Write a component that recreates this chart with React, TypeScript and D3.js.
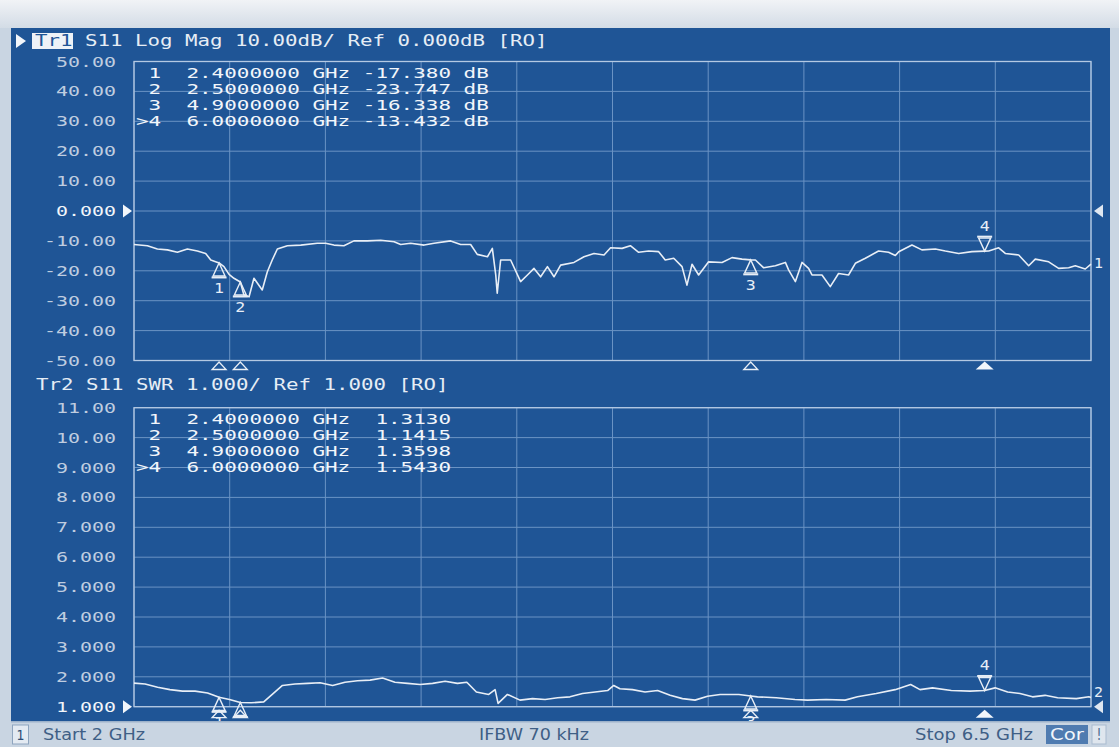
import { useEffect } from 'react'
import * as d3 from 'd3'

// stimulus
const startGHz = 2
const stopGHz = 6.5

// Tr1: S11 Log Mag (dB)
const s11LogMag: [number, number][] = [
  [2.0, -11.2], [2.063, -11.6], [2.11, -12.7], [2.157, -13.0], [2.204, -13.8], [2.251, -12.7],
  [2.298, -13.4], [2.337, -14.2], [2.361, -16.4], [2.4, -17.38], [2.423, -18.6], [2.447, -21.2],
  [2.47, -22.5], [2.5, -23.75], [2.517, -28.1], [2.541, -28.7], [2.564, -22.5], [2.603, -26.4],
  [2.627, -20.3], [2.65, -16.4], [2.674, -12.7], [2.721, -11.6], [2.784, -11.4], [2.862, -10.8],
  [2.901, -10.8], [2.94, -11.4], [2.987, -11.6], [3.034, -10.0], [3.097, -10.0], [3.16, -9.8],
  [3.223, -10.3], [3.254, -11.2], [3.301, -10.8], [3.364, -11.4], [3.411, -10.8], [3.489, -10.0],
  [3.536, -11.2], [3.583, -11.2], [3.614, -14.5], [3.662, -15.3], [3.685, -12.5], [3.701, -21.4],
  [3.708, -27.5], [3.724, -16.4], [3.771, -16.4], [3.818, -23.6], [3.85, -21.4], [3.881, -19.2],
  [3.912, -22.0], [3.944, -18.6], [3.975, -22.0], [4.006, -18.1], [4.069, -17.2], [4.116, -15.3],
  [4.163, -14.2], [4.21, -14.7], [4.241, -12.3], [4.295, -12.5], [4.334, -11.6], [4.373, -13.8],
  [4.42, -13.4], [4.467, -13.6], [4.498, -16.4], [4.538, -15.8], [4.577, -18.6], [4.6, -24.8],
  [4.624, -17.8], [4.655, -21.4], [4.702, -17.0], [4.765, -17.2], [4.812, -15.6], [4.859, -16.1],
  [4.9, -16.34], [4.922, -16.4], [4.961, -19.0], [5.016, -18.3], [5.063, -17.2], [5.078, -19.7],
  [5.11, -23.6], [5.141, -17.2], [5.172, -19.2], [5.188, -21.4], [5.235, -21.4], [5.274, -25.3],
  [5.313, -20.9], [5.36, -21.4], [5.392, -17.5], [5.439, -15.8], [5.501, -13.4], [5.548, -13.8],
  [5.58, -14.9], [5.596, -13.6], [5.658, -11.4], [5.705, -13.0], [5.768, -12.7], [5.815, -13.4],
  [5.878, -14.2], [5.94, -13.6], [6.0, -13.43], [6.019, -13.4], [6.066, -12.3], [6.097, -14.2],
  [6.16, -14.7], [6.207, -18.3], [6.238, -16.1], [6.301, -17.0], [6.348, -19.2], [6.395, -19.0],
  [6.426, -18.3], [6.473, -19.4], [6.5, -17.8],
]

// Tr2: S11 SWR
const s11Swr: [number, number][] = [
  [2.0, 1.79], [2.052, 1.76], [2.111, 1.65], [2.169, 1.57], [2.228, 1.52], [2.287, 1.52],
  [2.346, 1.46], [2.375, 1.38], [2.4, 1.313], [2.449, 1.24], [2.5, 1.14], [2.551, 1.13],
  [2.61, 1.16], [2.654, 1.44], [2.698, 1.71], [2.757, 1.76], [2.816, 1.78], [2.875, 1.8],
  [2.934, 1.71], [2.992, 1.82], [3.051, 1.87], [3.11, 1.89], [3.169, 1.96], [3.227, 1.82],
  [3.286, 1.78], [3.345, 1.74], [3.404, 1.78], [3.463, 1.85], [3.521, 1.78], [3.565, 1.82],
  [3.61, 1.49], [3.668, 1.41], [3.698, 1.57], [3.712, 1.11], [3.756, 1.41], [3.815, 1.22],
  [3.874, 1.27], [3.933, 1.24], [3.992, 1.3], [4.05, 1.33], [4.109, 1.44], [4.168, 1.49],
  [4.227, 1.54], [4.256, 1.71], [4.285, 1.6], [4.344, 1.57], [4.403, 1.49], [4.462, 1.54],
  [4.521, 1.38], [4.579, 1.27], [4.638, 1.22], [4.697, 1.35], [4.756, 1.41], [4.844, 1.41],
  [4.9, 1.36], [4.932, 1.33], [5.02, 1.3], [5.108, 1.24], [5.167, 1.22], [5.255, 1.24],
  [5.344, 1.22], [5.402, 1.33], [5.49, 1.44], [5.579, 1.57], [5.652, 1.74], [5.696, 1.57],
  [5.755, 1.63], [5.843, 1.54], [5.931, 1.52], [6.0, 1.543], [6.049, 1.63], [6.108, 1.49],
  [6.166, 1.44], [6.225, 1.33], [6.284, 1.38], [6.343, 1.3], [6.431, 1.27], [6.49, 1.33],
  [6.5, 1.31],
]

// markers
const markerIds = ['1', '2', '3', '4']
const markerGHz = [2.4, 2.5, 4.9, 6.0]
const markerDb = [-17.38, -23.747, -16.338, -13.432]
const markerSwr = [1.313, 1.1415, 1.3598, 1.543]
const activeMarker = 3

// y axes
const topTicks = [50, 40, 30, 20, 10, 0, -10, -20, -30, -40, -50]
const topTickLabels = ['50.00', '40.00', '30.00', '20.00', '10.00', '0.000', '-10.00', '-20.00', '-30.00', '-40.00', '-50.00']
const botTicks = [11, 10, 9, 8, 7, 6, 5, 4, 3, 2, 1]
const botTickLabels = ['11.00', '10.00', '9.000', '8.000', '7.000', '6.000', '5.000', '4.000', '3.000', '2.000', '1.000']

const tr1Header = 'S11 Log Mag 10.00dB/ Ref 0.000dB [RO]'
const tr2Header = 'Tr2 S11 SWR 1.000/ Ref 1.000 [RO]'
const statusStart = 'Start 2 GHz'
const statusIfbw = 'IFBW 70 kHz'
const statusStop = 'Stop 6.5 GHz'

const BLUE = '#1f5596'
const GRID = '#6a93c4'
const FRAME = '#b4c9e3'
const TRACE = '#e8eef6'
const LABEL = '#bfcde0'
const BRIGHT = '#f2f6fb'
const MONO = '"DejaVu Sans Mono", monospace'

function Mono({ x, y, text, cw, size = 14, fill = BRIGHT, anchor = 'start' }: any) {
  const w = text.length * cw
  const x0 = anchor === 'end' ? x - w : anchor === 'middle' ? x - w / 2 : x
  return (
    <text x={x0} y={y} dominantBaseline="central" fontFamily={MONO} fontSize={size}
      textLength={w} lengthAdjust="spacingAndGlyphs" fill={fill}>{text}</text>
  )
}

function Sans({ x, y, text, w, size = 15, fill = '#3f5f86', anchor = 'start' }: any) {
  const x0 = anchor === 'end' ? x - w : anchor === 'middle' ? x - w / 2 : x
  return (
    <text x={x0} y={y} dominantBaseline="central" fontFamily='"DejaVu Sans", sans-serif'
      fontSize={size} textLength={w} lengthAdjust="spacingAndGlyphs" fill={fill}>{text}</text>
  )
}

export default function App() {
  useEffect(() => {
    document.body.style.margin = '0'
  }, [])

  const W = 1119
  const H = 747
  const x = d3.scaleLinear().domain([startGHz, stopGHz]).range([134, 1091])
  const yTop = d3.scaleLinear().domain([-50, 50]).range([360.5, 61.5])
  const yBot = d3.scaleLinear().domain([1, 11]).range([706.7, 407.7])
  const divs = d3.range(0, 11).map(i => startGHz + (i * (stopGHz - startGHz)) / 10)

  const lineTop = d3.line<[number, number]>().x(d => x(d[0])).y(d => yTop(d[1]))
  const lineBot = d3.line<[number, number]>().x(d => x(d[0])).y(d => yBot(d[1]))

  const cwTab = 12.6
  const tabX = 136

  const plot = (y: any, ticks: number[], labels: string[], refVal: number, key: string) => {
    const [y1, y0] = y.range()
    return (
      <g key={key}>
        {ticks.map(t => (
          <line key={'h' + t} x1={x(startGHz)} x2={x(stopGHz)} y1={y(t)} y2={y(t)} stroke={GRID} strokeWidth={1} />
        ))}
        {divs.map(d => (
          <line key={'v' + d} x1={x(d)} x2={x(d)} y1={y0} y2={y1} stroke={GRID} strokeWidth={1} />
        ))}
        <rect x={x(startGHz)} y={y0} width={x(stopGHz) - x(startGHz)} height={y1 - y0} fill="none" stroke={FRAME} strokeWidth={1.3} />
        {ticks.map((t, i) => (
          <Mono key={'l' + t} x={116} y={y(t)} text={labels[i]} cw={12} size={14}
            fill={t === refVal ? BRIGHT : LABEL} anchor="end" />
        ))}
        <path d={`M${x(startGHz) - 11},${y(refVal) - 6.5}L${x(startGHz) - 2},${y(refVal)}L${x(startGHz) - 11},${y(refVal) + 6.5}Z`} fill={BRIGHT} />
        <path d={`M${x(stopGHz) + 12},${y(refVal) - 6.5}L${x(stopGHz) + 3},${y(refVal)}L${x(stopGHz) + 12},${y(refVal) + 6.5}Z`} fill="#dfe7f1" />
      </g>
    )
  }

  const markerUp = (mx: number, my: number, id: string, k: string) => (
    <g key={k}>
      <path d={`M${mx},${my}L${mx - 6},${my + 13}L${mx + 6},${my + 13}Z`} fill="none" stroke={TRACE} strokeWidth={1.4} />
      <line x1={mx - 7.5} x2={mx + 7.5} y1={my + 14.5} y2={my + 14.5} stroke={TRACE} strokeWidth={2} />
      <Mono x={mx} y={my + 25} text={id} cw={10} size={14} fill={TRACE} anchor="middle" />
    </g>
  )
  const markerDown = (mx: number, my: number, id: string, k: string) => (
    <g key={k}>
      <path d={`M${mx},${my}L${mx - 6},${my - 13}L${mx + 6},${my - 13}Z`} fill="none" stroke={TRACE} strokeWidth={1.4} />
      <line x1={mx - 7.5} x2={mx + 7.5} y1={my - 14.5} y2={my - 14.5} stroke={TRACE} strokeWidth={2} />
      <Mono x={mx} y={my - 25} text={id} cw={10} size={14} fill={TRACE} anchor="middle" />
    </g>
  )
  const stimMark = (mx: number, yb: number, active: boolean, k: string) =>
    active ? (
      <path key={k} d={`M${mx},${yb - 8}L${mx - 9},${yb}L${mx + 9},${yb}Z`} fill={BRIGHT} />
    ) : (
      <path key={k} d={`M${mx},${yb - 7.5}L${mx - 7},${yb}L${mx + 7},${yb}Z`} fill="none" stroke={TRACE} strokeWidth={1.3} />
    )

  return (
    <svg width={W} height={H} style={{ position: 'fixed', left: 0, top: 0, display: 'block' }}>
      <defs>
        <linearGradient id="band" x1="0" y1="0" x2="0" y2="1">
          <stop offset="0" stopColor="#f1f3f6" />
          <stop offset="1" stopColor="#d3dce6" />
        </linearGradient>
      </defs>
      <rect x={0} y={0} width={W} height={H} fill="#c9d5e2" />
      <rect x={0} y={0} width={W} height={28} fill="url(#band)" />
      <rect x={11} y={28} width={1099} height={693} fill={BLUE} />

      {/* Tr1 header */}
      <path d="M16,34L26,41L16,48Z" fill={BRIGHT} />
      <rect x={32} y={33} width={41} height={16} fill="#eef2f7" />
      <Mono x={35} y={41} text="Tr1" cw={12.5} size={15} fill={BLUE} />
      <Mono x={35 + 4 * 12.5} y={41} text={tr1Header} cw={12.5} size={15} fill="#e6edf5" />

      {plot(yTop, topTicks, topTickLabels, 0, 'p1')}

      {/* Tr1 marker table */}
      {markerIds.map((id, i) => {
        const yy = yTop.range()[1] + 11.5 + i * 16
        return (
          <g key={'t1' + id}>
            {i === activeMarker
              ? <Mono x={tabX} y={yy} text={'>' + id} cw={cwTab} />
              : <Mono x={tabX + cwTab} y={yy} text={id} cw={cwTab} />}
            <Mono x={tabX + 4 * cwTab} y={yy} text={markerGHz[i].toFixed(7)} cw={cwTab} />
            <Mono x={tabX + 14 * cwTab} y={yy} text="GHz" cw={cwTab} />
            <Mono x={tabX + 18 * cwTab} y={yy} text={markerDb[i].toFixed(3)} cw={cwTab} />
            <Mono x={tabX + 26 * cwTab} y={yy} text="dB" cw={cwTab} />
          </g>
        )
      })}

      <path d={lineTop(s11LogMag) || ''} fill="none" stroke={TRACE} strokeWidth={1.6} strokeLinejoin="round" />
      <Mono x={1094} y={yTop(s11LogMag[s11LogMag.length - 1][1]) - 1} text="1" cw={9} size={14} fill={TRACE} />
      {markerIds.map((id, i) =>
        i === activeMarker
          ? markerDown(x(markerGHz[i]), yTop(markerDb[i]), id, 'm1' + id)
          : markerUp(x(markerGHz[i]), yTop(markerDb[i]), id, 'm1' + id))}
      {markerIds.map((id, i) => stimMark(x(markerGHz[i]), yTop.range()[0] + 9, i === activeMarker, 's1' + id))}

      {/* Tr2 header */}
      <Mono x={36} y={385} text={tr2Header} cw={12.5} size={15} fill="#e6edf5" />

      {plot(yBot, botTicks, botTickLabels, 1, 'p2')}

      {markerIds.map((id, i) => {
        const yy = yBot.range()[1] + 11.5 + i * 16
        return (
          <g key={'t2' + id}>
            {i === activeMarker
              ? <Mono x={tabX} y={yy} text={'>' + id} cw={cwTab} />
              : <Mono x={tabX + cwTab} y={yy} text={id} cw={cwTab} />}
            <Mono x={tabX + 4 * cwTab} y={yy} text={markerGHz[i].toFixed(7)} cw={cwTab} />
            <Mono x={tabX + 14 * cwTab} y={yy} text="GHz" cw={cwTab} />
            <Mono x={tabX + 19 * cwTab} y={yy} text={markerSwr[i].toFixed(4)} cw={cwTab} />
          </g>
        )
      })}

      <path d={lineBot(s11Swr) || ''} fill="none" stroke={TRACE} strokeWidth={1.6} strokeLinejoin="round" />
      <Mono x={1094} y={yBot(s11Swr[s11Swr.length - 1][1]) - 5} text="2" cw={9} size={14} fill={TRACE} />
      {markerIds.map((id, i) =>
        i === activeMarker
          ? markerDown(x(markerGHz[i]), yBot(markerDb.length ? markerSwr[i] : 1), id, 'm2' + id)
          : markerUp(x(markerGHz[i]), yBot(markerSwr[i]), id, 'm2' + id))}
      {markerIds.map((id, i) => stimMark(x(markerGHz[i]), yBot.range()[0] + 11, i === activeMarker, 's2' + id))}

      {/* status bar */}
      <rect x={0} y={721} width={W} height={26} fill="#c9d5e2" />
      <rect x={11} y={721} width={1099} height={1.5} fill="#9db2ca" />
      <rect x={12.5} y={725} width={16} height={19} fill="#e3eaf2" stroke="#8ea5bf" strokeWidth={1} />
      <Sans x={20.5} y={735} text="1" w={8} size={14} fill="#2d4d75" anchor="middle" />
      <Sans x={43} y={735} text={statusStart} w={102} size={15} />
      <Sans x={479} y={735} text={statusIfbw} w={110} size={15} />
      <Sans x={1033} y={735} text={statusStop} w={118} size={15} anchor="end" />
      <rect x={1046} y={725} width={42} height={19} fill="#4f7bb0" />
      <Sans x={1067} y={735} text="Cor" w={34} size={15} fill="#f2f6fb" anchor="middle" />
      <rect x={1092} y={725} width={14} height={19} fill="#dfe6ee" stroke="#a9bbcf" strokeWidth={1} />
      <Sans x={1099} y={735} text="!" w={5} size={15} fill="#4d6a8e" anchor="middle" />
    </svg>
  )
}
